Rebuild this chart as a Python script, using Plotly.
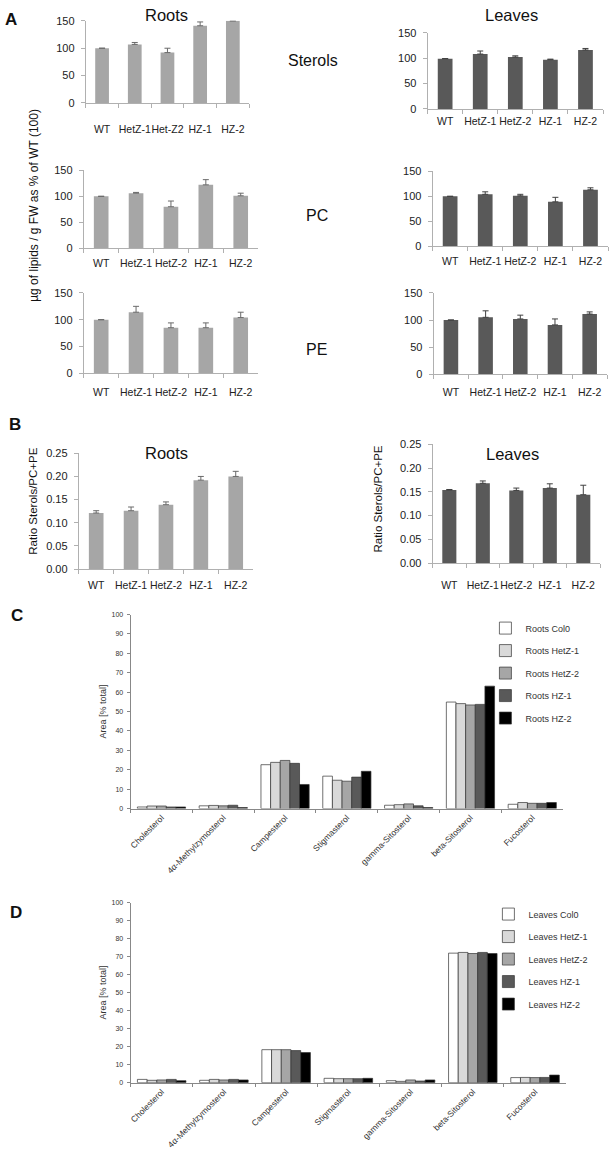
import plotly.graph_objects as go

W, H = 611, 1150

# ---------------- data ----------------
genotypes = ["WT", "HetZ-1", "HetZ-2", "HZ-1", "HZ-2"]
genotypes_roots_sterols = ["WT", "HetZ-1", "Het-Z2", "HZ-1", "HZ-2"]

roots_sterols = [100, 107, 92, 141, 150]
roots_sterols_err = [0, 3.5, 8, 7, 0]
leaves_sterols = [99, 108, 102, 97, 116]
leaves_sterols_err = [0, 6, 2.5, 1, 3]
roots_pc = [100, 106, 80, 122, 101]
roots_pc_err = [0, 1.5, 11, 10, 5]
leaves_pc = [100, 104, 101, 89, 113]
leaves_pc_err = [0, 5, 3, 9, 4]
roots_pe = [100, 114, 85, 85, 104]
roots_pe_err = [0, 11, 9, 9, 10]
leaves_pe = [100, 105, 102, 91, 111]
leaves_pe_err = [0, 12, 7, 11, 4]

ratio_roots = [0.121, 0.126, 0.139, 0.192, 0.200]
ratio_roots_err = [0.005, 0.008, 0.006, 0.008, 0.011]
ratio_leaves = [0.154, 0.168, 0.153, 0.158, 0.144]
ratio_leaves_err = [0.001, 0.005, 0.005, 0.009, 0.020]

sterol_names = ["Cholesterol", "4α-Methylzymosterol", "Campesterol", "Stigmasterol",
                "gamma-Sitosterol", "beta-Sitosterol", "Fucosterol"]

roots_series_names = ["Roots Col0", "Roots HetZ-1", "Roots HetZ-2", "Roots HZ-1", "Roots HZ-2"]
roots_col0 = [0.8, 1.4, 22.6, 16.7, 1.7, 54.9, 2.2]
roots_hetz1 = [1.3, 1.6, 23.8, 14.6, 2.0, 54.1, 3.1]
roots_hetz2 = [1.3, 1.4, 24.8, 14.1, 2.4, 53.4, 2.7]
roots_hz1 = [0.8, 1.7, 23.3, 16.2, 1.4, 53.7, 2.7]
roots_hz2 = [0.8, 0.5, 12.4, 19.2, 0.5, 63.1, 3.1]

leaves_series_names = ["Leaves Col0", "Leaves HetZ-1", "Leaves HetZ-2", "Leaves HZ-1", "Leaves HZ-2"]
leaves_col0 = [1.8, 1.3, 18.3, 2.4, 1.1, 71.9, 2.8]
leaves_hetz1 = [1.3, 1.8, 18.3, 2.2, 0.7, 72.3, 2.9]
leaves_hetz2 = [1.5, 1.5, 18.3, 2.2, 1.5, 71.7, 2.8]
leaves_hz1 = [1.8, 1.8, 17.8, 2.2, 0.9, 72.3, 2.9]
leaves_hz2 = [1.1, 1.5, 16.7, 2.4, 1.5, 71.7, 4.2]

# ---------------- styles ----------------
FONT = "Liberation Sans, Arial, sans-serif"
ROOT_COL = "#a6a6a6"
LEAF_COL = "#595959"
AXIS_COL = "#b0b0b0"
SERIES_COLS = ["#ffffff", "#d9d9d9", "#a6a6a6", "#595959", "#000000"]


def xd(x0, x1):
    return [x0 / W, x1 / W]


def yd(ytop, ybot):
    return [1 - ybot / H, 1 - ytop / H]


fig = go.Figure()
layout = {}

small_panels = [
    (1, genotypes_roots_sterols, roots_sterols, roots_sterols_err, ROOT_COL, "#6a6a6a", (84, 248), (15, 98), [0, 150], 50, None, 16),
    (2, genotypes, leaves_sterols, leaves_sterols_err, LEAF_COL, "#404040", (427, 603), (27, 104), [0, 150], 50, None, 2),
    (3, genotypes, roots_pc, roots_pc_err, ROOT_COL, "#6a6a6a", (82, 257), (166, 245), [0, 150], 50, None, 5),
    (4, genotypes, leaves_pc, leaves_pc_err, LEAF_COL, "#404040", (432, 608), (167, 243), [0, 150], 50, None, 5),
    (5, genotypes, roots_pe, roots_pe_err, ROOT_COL, "#6a6a6a", (82, 257), (290, 371), [0, 150], 50, None, 9),
    (6, genotypes, leaves_pe, leaves_pe_err, LEAF_COL, "#404040", (433, 607), (290, 372), [0, 150], 50, None, 8),
    (7, genotypes, ratio_roots, ratio_roots_err, ROOT_COL, "#6a6a6a", (77, 252), (452, 569), [0, 0.25], 0.05, ".2f", 6),
    (8, genotypes, ratio_leaves, ratio_leaves_err, LEAF_COL, "#404040", (432, 600), (443, 563), [0, 0.25], 0.05, ".2f", 12),
]

for idx, cats, vals, errs, col, ecol, xdm, ydm, yr, dt, fmt, so in small_panels:
    sfx = "" if idx == 1 else str(idx)
    fig.add_trace(go.Bar(
        x=cats, y=vals, xaxis="x" + sfx, yaxis="y" + sfx,
        marker=dict(color=col, line=dict(width=0)), width=0.42,
        error_y=dict(type="data", array=errs, arrayminus=[0] * len(errs), symmetric=False,
                     thickness=1, width=3, color=ecol),
        showlegend=False, hoverinfo="x+y",
    ))
    layout["xaxis" + sfx] = dict(
        domain=xd(*xdm), anchor="y" + sfx, type="category", range=[-0.5, 4.5],
        showline=True, linecolor=AXIS_COL, linewidth=1, ticks="outside", tickson="boundaries",
        ticklen=4, tickcolor=AXIS_COL, showgrid=False, ticklabelstandoff=so, tickangle=0,
        tickfont=dict(size=10.5, color="#222", family=FONT), fixedrange=True,
    )
    ya = dict(
        domain=yd(*ydm), anchor="x" + sfx, range=yr, dtick=dt, tick0=0,
        showline=True, linecolor=AXIS_COL, linewidth=1, ticks="outside", ticklen=4,
        tickcolor=AXIS_COL, showgrid=False, zeroline=False, ticklabelstandoff=4,
        tickfont=dict(size=11, color="#222", family=FONT), fixedrange=True,
    )
    if fmt:
        ya["tickformat"] = fmt
    layout["yaxis" + sfx] = ya

# composition panels C and D
big_panels = [
    (9, roots_series_names, [roots_col0, roots_hetz1, roots_hetz2, roots_hz1, roots_hz2], (129, 563), (615, 811), "legend", (485, 614)),
    (10, leaves_series_names, [leaves_col0, leaves_hetz1, leaves_hetz2, leaves_hz1, leaves_hz2], (129, 566), (906, 1088), "legend2", (488, 903)),
]
for idx, names, series, xdm, ydm, leg, legpos in big_panels:
    sfx = str(idx)
    for i, (nm, vals) in enumerate(zip(names, series)):
        fig.add_trace(go.Bar(
            x=sterol_names, y=vals, name=nm, xaxis="x" + sfx, yaxis="y" + sfx,
            marker=dict(color=SERIES_COLS[i], line=dict(color="#333333", width=0.7)),
            legend=leg, legendgroup=nm + sfx, offsetgroup=str(i),
        ))
    layout["xaxis" + sfx] = dict(
        domain=xd(*xdm), anchor="y" + sfx, type="category",
        showline=True, linecolor="#888", linewidth=1, ticks="outside", tickson="boundaries",
        ticklen=3, tickcolor="#888", showgrid=False, tickangle=-45,
        tickfont=dict(size=8.5, color="#333", family=FONT), fixedrange=True,
    )
    layout["yaxis" + sfx] = dict(
        domain=yd(*ydm), anchor="x" + sfx, range=[0, 100], dtick=10,
        showline=True, linecolor="#888", linewidth=1, ticks="outside", ticklen=3,
        tickcolor="#888", showgrid=False, zeroline=False, ticklabelstandoff=2,
        tickfont=dict(size=7, color="#333", family=FONT), fixedrange=True,
        title=dict(text="Area [% total]", font=dict(size=9, color="#333", family=FONT), standoff=3),
    )
    layout[leg] = dict(
        x=legpos[0] / W, y=1 - legpos[1] / H, xanchor="left", yanchor="top",
        font=dict(size=9, color="#333", family=FONT), tracegroupgap=3.5,
        bgcolor="rgba(0,0,0,0)", itemclick=False, itemdoubleclick=False,
    )

annotations = []


def txt(text, x, y, size, bold=False, angle=0):
    annotations.append(dict(
        text=("<b>%s</b>" % text) if bold else text, x=x / W, y=1 - y / H,
        xref="paper", yref="paper", showarrow=False, textangle=angle,
        xanchor="center", yanchor="middle",
        font=dict(size=size, color="#111", family=FONT),
    ))


txt("A", 9, 14, 17, bold=True)
txt("B", 13, 423, 17, bold=True)
txt("C", 15, 616, 17, bold=True)
txt("D", 14, 916, 17, bold=True)
txt("Roots", 165, 9, 16.5)
txt("Leaves", 511, 9, 16.5)
txt("Sterols", 312, 55, 16)
txt("PC", 316, 212, 16)
txt("PE", 316, 347, 16)
txt("Roots", 165, 452, 16.5)
txt("Leaves", 512, 453, 16.5)
txt("µg of lipids / g FW as % of WT (100)", 32, 201, 12, angle=-90)
txt("Ratio Sterols/PC+PE", 31, 500, 11.5, angle=-90)
txt("Ratio Sterols/PC+PE", 377, 498, 11.5, angle=-90)

fig.update_layout(
    width=W, height=H, margin=dict(l=0, r=0, t=0, b=0),
    paper_bgcolor="white", plot_bgcolor="white",
    barmode="group", bargap=0.22, bargroupgap=0,
    font=dict(family=FONT, color="#222"),
    annotations=annotations, **layout,
)

fig.write_html(
    "out.html",
    config={"displayModeBar": False},
    post_script="document.documentElement.style.margin='0';document.body.style.margin='0';"
                "document.body.style.padding='0';document.body.style.overflow='hidden';",
)
